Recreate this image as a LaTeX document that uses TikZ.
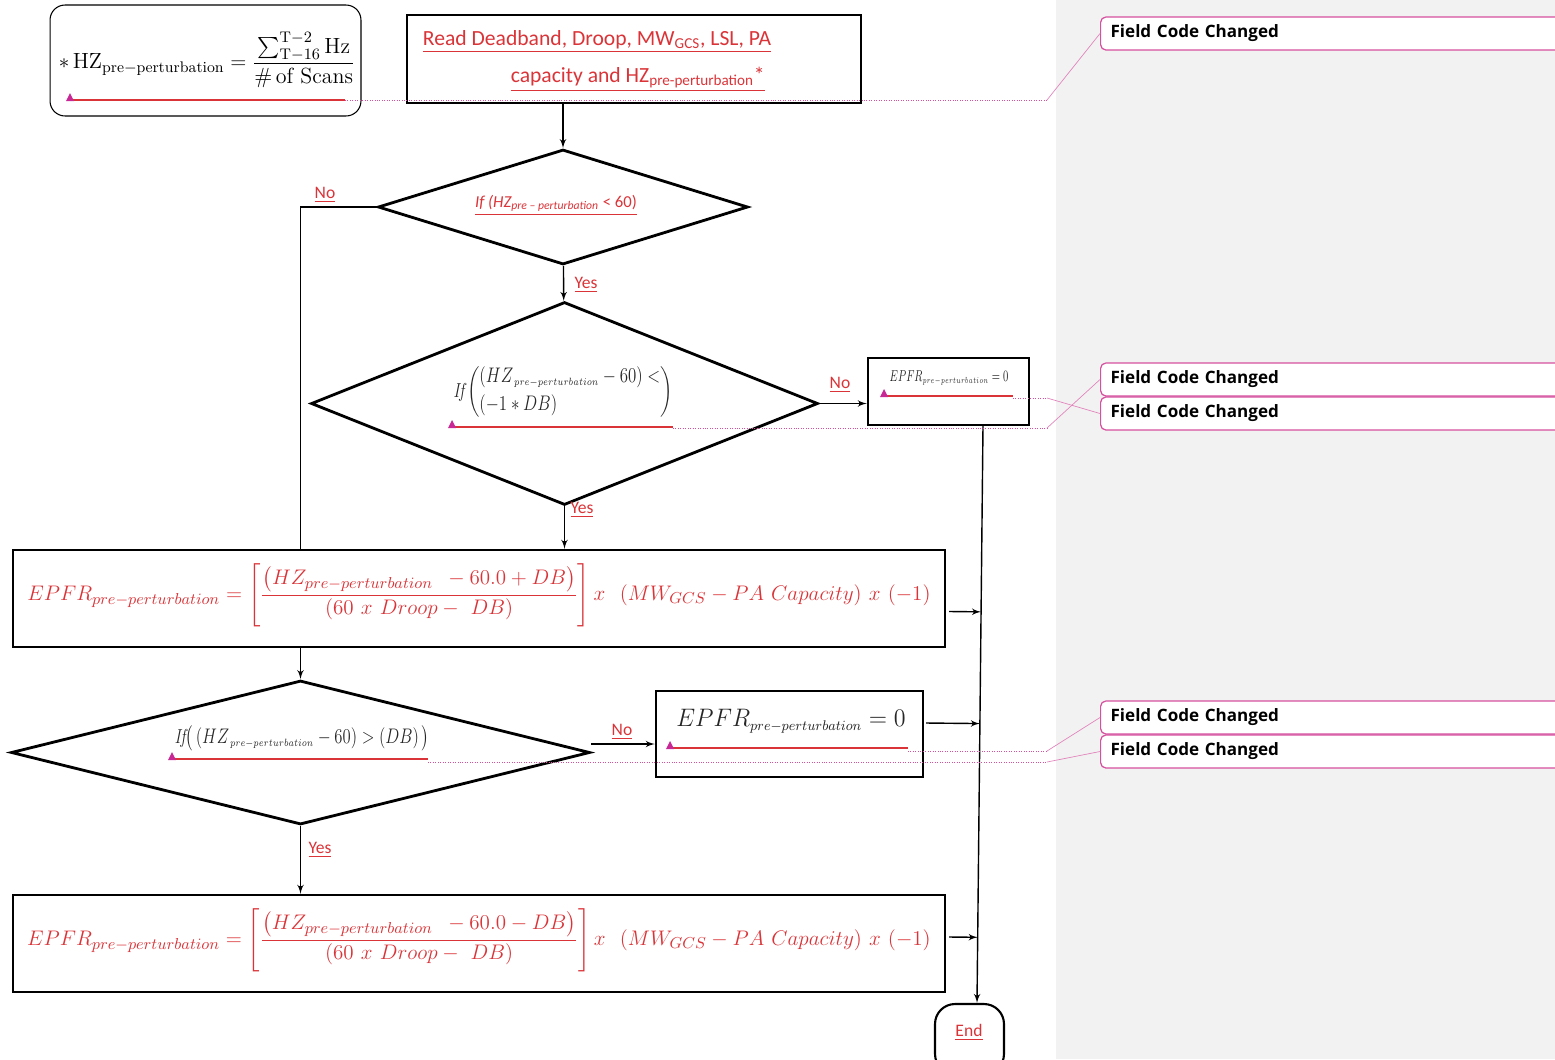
\documentclass[tikz,border=0pt]{standalone}
\usepackage{amsmath}
\usepackage{graphicx}
\usepackage{fontspec}
\usepackage{tikz}
\usetikzlibrary{arrows}
\usetikzlibrary{shapes.geometric}
\usetikzlibrary{calc}
\newfontfamily\calibri{Carlito}
\newfontfamily\segoe{Open Sans}
\definecolor{fcred}{RGB}{218,52,56}
\definecolor{fcpink}{RGB}{214,80,160}
\definecolor{fcmag}{RGB}{200,40,150}
\newcommand\epfrformula[1]{$EPFR_{pre-perturbation} = \left[\dfrac{\left(HZ_{pre-perturbation}\ \, - 60.0 #1 DB\right)}{(60\ x\ Droop -\ DB)}\right] x\ \ (MW_{GCS} - PA\ Capacity)\ x\ (-1)$}
\newcommand\prepert{{\scriptscriptstyle pre-perturbation}}

\begin{document}
\begin{tikzpicture}[x=0.02cm, y=-0.02cm]
		\tikzset{box/.style={draw, line width=1.6pt, inner sep=0pt}}
		\tikzset{decision/.style={shape=diamond, draw, line width=1.6pt, inner sep=0pt, aspect=1}}
		\tikzset{edge/.style={->, > = latex', line width=0.8pt}}
		\tikzset{answer/.style={font=\calibri\fontsize{10}{12}\selectfont, text=fcred}}
		\tikzset{fieldcode/.style={draw=fcpink, fill=white, rounded corners=3pt, line width=0.7pt, anchor=west,
				minimum height=0.66cm, text width=8.9cm, inner xsep=0.2cm, align=left,
				font=\segoe\bfseries\fontsize{9.7}{11}\selectfont}}
		\tikzset{markline/.style={fcred, line width=1pt}}
		\tikzset{leader/.style={fcpink, line width=0.4pt, densely dotted}}
		\tikzset{slant/.style={fcpink!70, line width=0.4pt}}
					\useasboundingbox (0,0) rectangle (1555,1059);
					%markup pane
					\fill[black!5] (1056,0) rectangle (1555,1059);
					\node[fieldcode] (fcA) at (1100,33.5) {Field Code Changed};
					\node[fieldcode] (fcB) at (1100,379.5) {Field Code Changed};
					\node[fieldcode] (fcC) at (1100,413.5) {Field Code Changed};
					\node[fieldcode] (fcD) at (1100,717.5) {Field Code Changed};
					\node[fieldcode] (fcE) at (1100,751.5) {Field Code Changed};
					%boxes
					\node[box, line width=0.6pt, rounded corners=0.3cm, minimum width=6.22cm, minimum height=2.22cm] (scans) at (205.5,60.5) {};
					\node[font=\fontsize{12.5}{14}\selectfont] (scanstext) at (207,60) {$\ast\,\mathrm{HZ}_{\mathrm{pre-perturbation}} = \dfrac{\sum_{\mathrm{T}-16}^{\mathrm{T}-2}\mathrm{Hz}}{\#\,\mathrm{of\ Scans}}$};
					\node[box, minimum width=9.08cm, minimum height=1.76cm] (readbox) at (634,59) {};
					\node[font=\calibri\fontsize{12.3}{21}\selectfont, text=fcred, align=left] (readtext) at (597,61)
						{\underline{Read Deadband, Droop, MW\textsubscript{GCS}, LSL, PA}\\ \hspace*{50pt}\underline{capacity and HZ\textsubscript{pre-perturbation}*}};
					\node[decision, minimum width=7.4cm, minimum height=2.3cm] (hzlow) at (563,207) {};
					\node[font=\calibri\fontsize{9.5}{12}\selectfont, text=fcred] (hzlowtext) at (556,205)
						{\underline{\itshape If (HZ\textsubscript{pre – perturbation} \upshape < 60)}};
					\node[decision, minimum width=10.14cm, minimum height=4.06cm] (dbneg) at (564.5,403.5) {};
					\node[font=\fontsize{11.5}{13}\selectfont, text=black!85] (dbnegtext) at (563,392)
						{\scalebox{0.8}[1]{$\mathit{If}\left(\begin{array}{@{}l@{}}\left(HZ_{\,\prepert}-60\right)<\\[3pt] \left(-1*DB\right)\end{array}\right)$}};
					\node[box, line width=1.4pt, minimum width=3.22cm, minimum height=1.34cm] (zeroA) at (948.5,391.5) {};
					\node[font=\fontsize{9.5}{10}\selectfont, text=black!85] (zeroAtext) at (949,378) {\scalebox{0.65}[1]{$EPFR_{\prepert}=0$}};
					\node[box, line width=1.4pt, minimum width=18.64cm, minimum height=1.94cm] (ruleA) at (479,598.5) {};
					\node[font=\fontsize{12.5}{15}\selectfont, text=fcred] (ruleAtext) at (479,595) {\epfrformula{+}};
					\node[decision, minimum width=11.58cm, minimum height=2.88cm] (dbpos) at (300.5,752.5) {};
					\node[font=\fontsize{11.5}{13}\selectfont, text=black!85] (dbpostext) at (302,738)
						{\scalebox{0.79}[1]{$\mathit{If}\big(\left(HZ_{\,\prepert}-60\right)>\left(DB\right)\big)$}};
					\node[box, line width=1.4pt, minimum width=5.34cm, minimum height=1.72cm] (zeroB) at (789.5,734) {};
					\node[font=\fontsize{15.5}{17}\selectfont, text=black!85] (zeroBtext) at (791,721) {\scalebox{0.95}[1]{$EPFR_{\prepert}=0$}};
					\node[box, line width=1.4pt, minimum width=18.64cm, minimum height=1.94cm] (ruleB) at (479,943.5) {};
					\node[font=\fontsize{12.5}{15}\selectfont, text=fcred] (ruleBtext) at (479,940) {\epfrformula{-}};
					\node[box, line width=1.2pt, rounded corners=0.4cm, minimum width=1.38cm, minimum height=1.4cm] (finish) at (969.5,1039) {};
					\node[font=\calibri\fontsize{10}{12}\selectfont, text=fcred] (finishtext) at (969,1032) {\underline{End}};
					%edges
					\draw[edge] (hzlow.north |- readbox.south) -- (hzlow.north);
					\draw[edge] (hzlow) -- (dbneg);
					\draw[edge, -] (hzlow.west) -- (hzlow.west -| dbpos.north) -- (dbpos.north |- ruleA.north);
					\draw[edge] (dbneg.east) -- (dbneg.east -| zeroA.west);
					\draw[edge] (dbneg.south) -- (dbneg.south |- ruleA.north);
					\draw[edge] (dbpos.north |- ruleA.south) -- (dbpos.north);
					\draw[edge] ([yshift=0.17cm]dbpos.east) -- ([yshift=0.17cm]dbpos.east -| zeroB.west);
					\draw[edge] (dbpos.south) -- (dbpos.south |- ruleB.north);
					\coordinate (trunktop) at ([xshift=0.69cm]zeroA.south);
					\coordinate (trunkbot) at ([xshift=0.15cm]finish.north);
					\draw[edge] (trunktop) -- (trunkbot);
					\draw[edge] ([xshift=0.06cm, yshift=-0.26cm]ruleA.east) -- ($(trunktop)!([yshift=-0.26cm]ruleA.east)!(trunkbot)$);
					\draw[edge] ([xshift=0.04cm, yshift=0.22cm]zeroB.east) -- ($(trunktop)!([yshift=0.22cm]zeroB.east)!(trunkbot)$);
					\draw[edge] ([xshift=0.06cm, yshift=0.13cm]ruleB.east) -- ($(trunktop)!([yshift=0.13cm]ruleB.east)!(trunkbot)$);
					%answers
					\node[answer] (noA) at (325,195) {\underline{No}};
					\node[answer] (yesA) at (586,285) {\underline{Yes}};
					\node[answer] (noB) at (840,385) {\underline{No}};
					\node[answer] (yesB) at (582,510) {\underline{Yes}};
					\node[answer] (noC) at (622,732) {\underline{No}};
					\node[answer] (yesC) at (320,850) {\underline{Yes}};
					%change marks
					\foreach \a/\b/\y in {70/345/100, 452/673/427, 884/1013/396, 172/428/759, 670/908/748}
						\draw[markline] (\a,\y) -- (\b,\y);
					\foreach \mx/\my in {70/98, 452/425, 884/394, 172/757, 670/746}
						\fill[fcmag] (\mx,\my) ++(-4,3) -- ++(8,0) -- ++(-4,-8) -- cycle;
					\coordinate (mkA) at (1047,100);
					\coordinate (mkB) at (1047,428);
					\coordinate (mkC) at (1047,398);
					\coordinate (mkD) at (1047,751);
					\coordinate (mkE) at (1047,762);
					\draw[leader] (345,100) -- (mkA);
					\draw[leader] (673,428) -- (mkB);
					\draw[leader] (1013,398) -- (mkC);
					\draw[leader] (908,751) -- (mkD);
					\draw[leader] (428,762) -- (mkE);
					\draw[slant] (mkA) -- (fcA.west);
					\draw[slant] (mkB) -- (fcB.west);
					\draw[slant] (mkC) -- (fcC.west);
					\draw[slant] (mkD) -- (fcD.west);
					\draw[slant] (mkE) -- (fcE.west);
					
					\end{tikzpicture}
\end{document}
